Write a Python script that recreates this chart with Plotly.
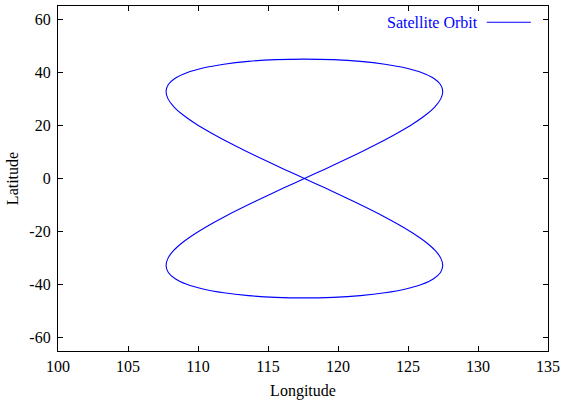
import plotly.graph_objects as go

# Ground track of the satellite
longitude = [117.60, 116.14, 114.71, 113.33, 112.03, 110.85, 109.81, 108.94, 108.28, 107.86,
             107.72, 107.88, 108.37, 109.20, 110.36, 111.85, 113.60, 115.55, 117.60,
             119.65, 121.60, 123.35, 124.84, 126.00, 126.83, 127.32, 127.48, 127.34, 126.92,
             126.26, 125.39, 124.35, 123.17, 121.87, 120.49, 119.06, 117.60,
             116.14, 114.71, 113.33, 112.03, 110.85, 109.81, 108.94, 108.28, 107.86,
             107.72, 107.88, 108.37, 109.20, 110.36, 111.85, 113.60, 115.55, 117.60,
             119.65, 121.60, 123.35, 124.84, 126.00, 126.83, 127.32, 127.48, 127.34, 126.92,
             126.26, 125.39, 124.35, 123.17, 121.87, 120.49, 119.06, 117.60]
latitude = [0.00, 3.53, 7.05, 10.55, 14.00, 17.39, 20.71, 23.93, 27.03, 30.00,
            32.80, 35.40, 37.76, 39.86, 41.64, 43.08, 44.14, 44.78, 45.00,
            44.78, 44.14, 43.08, 41.64, 39.86, 37.76, 35.40, 32.80, 30.00, 27.03,
            23.93, 20.71, 17.39, 14.00, 10.55, 7.05, 3.53, 0.00,
            -3.53, -7.05, -10.55, -14.00, -17.39, -20.71, -23.93, -27.03, -30.00,
            -32.80, -35.40, -37.76, -39.86, -41.64, -43.08, -44.14, -44.78, -45.00,
            -44.78, -44.14, -43.08, -41.64, -39.86, -37.76, -35.40, -32.80, -30.00, -27.03,
            -23.93, -20.71, -17.39, -14.00, -10.55, -7.05, -3.53, 0.00]

x_ticks = [100, 105, 110, 115, 120, 125, 130, 135]
y_ticks = [-60, -40, -20, 0, 20, 40, 60]
y_tick_labels = ["-60", "-40", "-20", "0", "20", "40", "60"]
series_name = "Satellite Orbit"

FONT = "Liberation Serif, Times New Roman, serif"
BLUE = "#0000ff"

fig = go.Figure()
fig.add_trace(go.Scatter(
    x=longitude, y=latitude, mode="lines", name=series_name,
    line=dict(color=BLUE, width=1.1, shape="spline", smoothing=0.8),
    showlegend=False, hoverinfo="x+y",
))

axis_common = dict(
    showgrid=False, zeroline=False, showline=True, linecolor="black", linewidth=1.3,
    mirror="ticks", ticks="inside", ticklen=5, tickcolor="black", tickwidth=1,
    tickfont=dict(family=FONT, size=16, color="black"), automargin=False,
)

fig.update_xaxes(range=[100, 135], tickvals=x_ticks, ticklabelstandoff=1,
                 title=dict(text="Longitude", font=dict(family=FONT, size=16, color="black"), standoff=10),
                 **axis_common)
fig.update_yaxes(range=[-65, 65], tickvals=y_ticks, ticktext=y_tick_labels, ticklabelstandoff=3,
                 title=dict(text="Latitude", font=dict(family=FONT, size=16, color="black"), standoff=6),
                 **axis_common)

# gnuplot-style key: text followed by line sample
fig.add_annotation(xref="paper", yref="paper", x=0.862, y=0.953, xanchor="right", yanchor="middle",
                   text=series_name, showarrow=False,
                   font=dict(family=FONT, size=16, color=BLUE))
fig.add_shape(type="line", xref="paper", yref="paper", x0=0.875, x1=0.965, y0=0.953, y1=0.953,
              line=dict(color=BLUE, width=1.1))

fig.update_layout(
    width=562, height=402,
    margin=dict(l=58, r=14, t=6, b=51, autoexpand=False),
    paper_bgcolor="white", plot_bgcolor="white",
    font=dict(family=FONT, size=16, color="black"),
)

fig.write_html("out.html")
